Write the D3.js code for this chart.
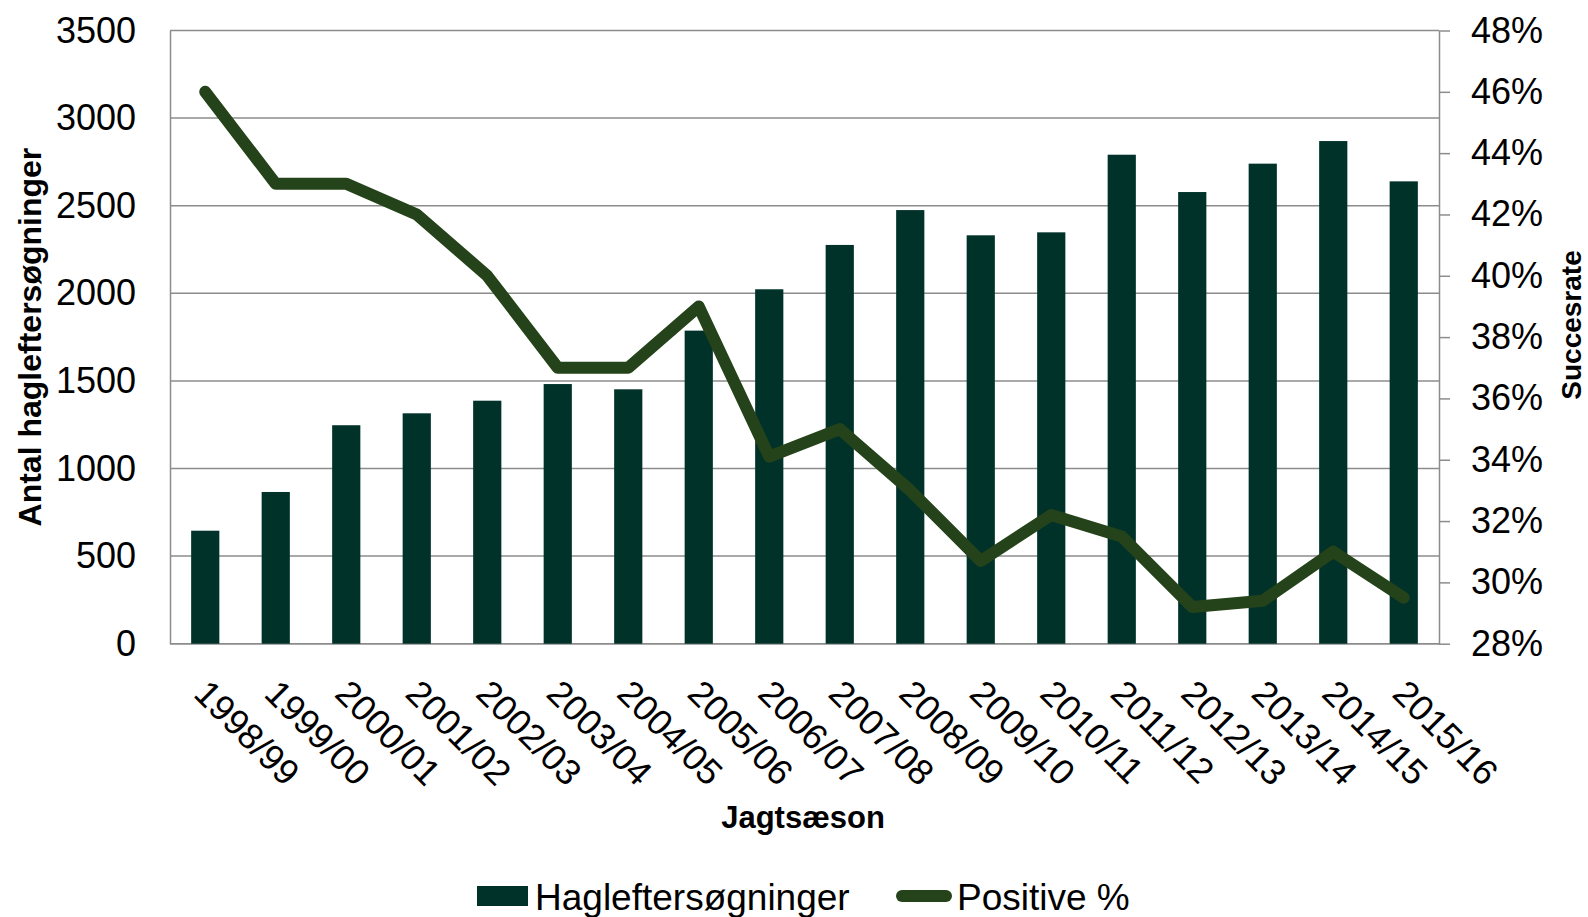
<!DOCTYPE html>
<html>
<head>
<meta charset="utf-8">
<script src="https://cdn.jsdelivr.net/npm/d3@7"></script>
<style>
  html, body { margin: 0; padding: 0; background: #fff; }
  svg { display: block; font-family: "Liberation Sans", Arial, sans-serif; }
  .grid-line { stroke: #8c8c8c; stroke-width: 1.5; }
  .tick-label { font-size: 36px; fill: #000; }
  .axis-title { font-size: 31px; font-weight: bold; fill: #000; }
  .legend-label { font-size: 37px; fill: #000; }
</style>
</head>
<body>
<svg id="chart" width="1588" height="917" viewBox="0 0 1588 917"></svg>
<script>
const seasons = [
  "1998/99", "1999/00", "2000/01", "2001/02", "2002/03", "2003/04",
  "2004/05", "2005/06", "2006/07", "2007/08", "2008/09", "2009/10",
  "2010/11", "2011/12", "2012/13", "2013/14", "2014/15", "2015/16"
];
const searches = [
  645, 866, 1247, 1315, 1387, 1482, 1452, 1787, 2023,
  2276, 2475, 2331, 2348, 2791, 2578, 2740, 2869, 2639
];
const positivePct = [
  46, 43, 43, 42, 40, 37, 37, 39, 34.1,
  35, 33, 30.7, 32.2, 31.5, 29.2, 29.4, 31, 29.5
];
const leftTicks = [0, 500, 1000, 1500, 2000, 2500, 3000, 3500];
const rightTicks = [28, 30, 32, 34, 36, 38, 40, 42, 44, 46, 48];

const BAR_COLOR = "#01322a";
const LINE_COLOR = "#25431a";

function renderChart(svg) {
  const root = d3.select(svg);
  const margin = { top: 30.5, right: 149, bottom: 273.3, left: 170 };
  const width = 1588;
  const height = 917;
  const plotBottom = height - margin.bottom;
  const plotRight = width - margin.right;

  const xScale = d3.scaleBand()
    .domain(seasons)
    .range([margin.left, plotRight])
    .paddingInner(0.6)
    .paddingOuter(0.3);
  const yLeft = d3.scaleLinear().domain([0, 3500]).range([plotBottom, margin.top]);
  const yRight = d3.scaleLinear().domain([28, 48]).range([plotBottom, margin.top]);
  const center = season => xScale(season) + xScale.bandwidth() / 2;

  // horizontal grid
  root.append("g")
    .selectAll("line")
    .data(leftTicks)
    .join("line")
    .attr("x1", margin.left)
    .attr("x2", plotRight)
    .attr("y1", tick => yLeft(tick))
    .attr("y2", tick => yLeft(tick))
    .attr("class", "grid-line");

  // left axis
  root.append("g")
    .attr("class", "axis axis-left")
    .attr("transform", `translate(${margin.left}, 0)`)
    .call(d3.axisLeft(yLeft).tickValues(leftTicks).tickSize(0).tickPadding(34).tickFormat(d3.format("d")))
    .call(g => g.select(".domain").attr("stroke", "#8c8c8c").attr("stroke-width", 1.5))
    .call(g => g.selectAll("text").attr("class", "tick-label").attr("font-family", null).attr("font-size", null).attr("fill", null));

  // right axis
  root.append("g")
    .attr("class", "axis axis-right")
    .attr("transform", `translate(${plotRight}, 0)`)
    .call(d3.axisRight(yRight).tickValues(rightTicks).tickSize(11).tickSizeOuter(0).tickPadding(21).tickFormat(v => v + "%"))
    .call(g => g.select(".domain").attr("stroke", "#8c8c8c").attr("stroke-width", 1.5))
    .call(g => g.selectAll(".tick line").attr("stroke", "#8c8c8c").attr("stroke-width", 1.5))
    .call(g => g.selectAll("text").attr("class", "tick-label").attr("font-family", null).attr("font-size", null).attr("fill", null));

  // bottom axis line
  root.append("line")
    .attr("x1", margin.left)
    .attr("x2", plotRight)
    .attr("y1", plotBottom)
    .attr("y2", plotBottom)
    .attr("stroke", "#8c8c8c")
    .attr("stroke-width", 1.5);

  // bars
  root.append("g")
    .selectAll("rect")
    .data(seasons)
    .join("rect")
    .attr("x", season => xScale(season))
    .attr("width", xScale.bandwidth())
    .attr("y", (_s, i) => yLeft(searches[i]))
    .attr("height", (_s, i) => plotBottom - yLeft(searches[i]))
    .attr("fill", BAR_COLOR);

  // line
  const line = d3.line()
    .x((_v, i) => center(seasons[i]))
    .y(v => yRight(v));
  root.append("path")
    .attr("d", line(positivePct))
    .attr("fill", "none")
    .attr("stroke", LINE_COLOR)
    .attr("stroke-width", 12)
    .attr("stroke-linejoin", "round")
    .attr("stroke-linecap", "round");

  // rotated category labels
  root.append("g")
    .selectAll("text")
    .data(seasons)
    .join("text")
    .attr("transform", season => `translate(${center(season) + 10}, ${plotBottom + 29}) rotate(45)`)
    .attr("dy", "0.9em")
    .attr("class", "tick-label")
    .text(season => season);

  // axis titles
  root.append("text")
    .attr("class", "axis-title")
    .attr("style", "font-size: 32px")
    .attr("transform", `translate(41, ${(margin.top + plotBottom) / 2}) rotate(-90)`)
    .attr("text-anchor", "middle")
    .text("Antal hagleftersøgninger");

  root.append("text")
    .attr("class", "axis-title")
    .attr("style", "font-size: 28px")
    .attr("transform", `translate(1581, 325) rotate(-90)`)
    .attr("text-anchor", "middle")
    .text("Succesrate");

  root.append("text")
    .attr("class", "axis-title")
    .attr("x", 803)
    .attr("y", 828)
    .attr("text-anchor", "middle")
    .text("Jagtsæson");

  // legend
  const legend = root.append("g");
  legend.append("rect")
    .attr("x", 477).attr("y", 886).attr("width", 51).attr("height", 20)
    .attr("fill", BAR_COLOR);
  legend.append("text")
    .attr("x", 535).attr("y", 909.5)
    .attr("class", "legend-label")
    .text("Hagleftersøgninger");
  legend.append("line")
    .attr("x1", 902).attr("x2", 946).attr("y1", 896).attr("y2", 896)
    .attr("stroke", LINE_COLOR).attr("stroke-width", 12).attr("stroke-linecap", "round");
  legend.append("text")
    .attr("x", 957).attr("y", 909.5)
    .attr("class", "legend-label")
    .text("Positive %");
}

renderChart(document.getElementById("chart"));
</script>
</body>
</html>
